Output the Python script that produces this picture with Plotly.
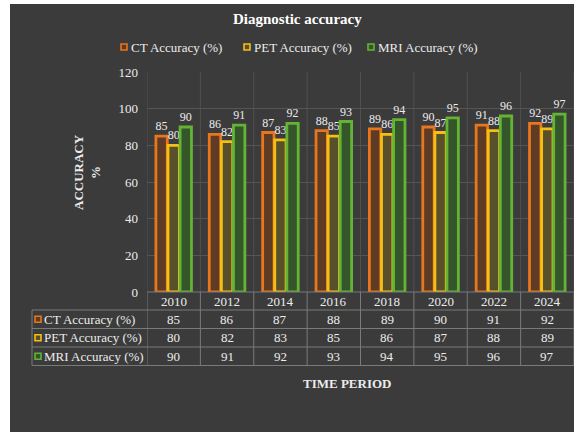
import plotly.graph_objects as go

# ---- data ----
years = ["2010", "2012", "2014", "2016", "2018", "2020", "2022", "2024"]
ct_accuracy = [85, 86, 87, 88, 89, 90, 91, 92]
pet_accuracy = [80, 82, 83, 85, 86, 87, 88, 89]
mri_accuracy = [90, 91, 92, 93, 94, 95, 96, 97]
series_names = ["CT Accuracy (%)", "PET Accuracy (%)", "MRI Accuracy (%)"]
y_ticks = [0, 20, 40, 60, 80, 100, 120]

series_values = [ct_accuracy, pet_accuracy, mri_accuracy]
edge_colors = ["#e8761c", "#f6c013", "#63b434"]
fill_colors = ["#5e3b24", "#58502a", "#35562a"]

W, H = 574, 432
L, R, T, B = 147, 0, 72, 140
PW, PH = W - L - R, H - T - B
BG = "#3b3b3b"
TXT = "#ececec"
SERIF = "Liberation Serif, Times New Roman, serif"
FS = 13


def px_x(px):
    return (px - L) / PW


def px_y(py):
    return (H - B - py) / PH


def label(x, y, text, xref="paper", xanchor="center", size=FS, angle=0, color=TXT):
    return dict(x=x, y=y, xref=xref, yref="paper", text=text, showarrow=False,
                xanchor=xanchor, yanchor="middle", textangle=angle,
                font=dict(family=SERIF, size=size, color=color))


def key_box(cx, cy, ec, fc, half=3):
    return dict(type="rect", xref="paper", yref="paper",
                x0=px_x(cx - half), x1=px_x(cx + half), y0=px_y(cy + half), y1=px_y(cy - half),
                fillcolor=fc, line=dict(color=ec, width=1.6))


fig = go.Figure()
for name, vals, ec, fc in zip(series_names, series_values, edge_colors, fill_colors):
    fig.add_trace(go.Bar(
        x=list(range(len(years))), y=vals, name=name,
        marker=dict(color=fc, line=dict(color=ec, width=2.8)),
        text=[str(v) for v in vals], textposition="outside",
        textfont=dict(family=SERIF, size=12, color=TXT),
        constraintext="none", cliponaxis=False,
    ))

shapes = []
annotations = []

# faint vertical separators inside the plot area
for i in range(len(years) + 1):
    shapes.append(dict(type="line", xref="x", yref="paper", x0=i - 0.5, x1=i - 0.5,
                       y0=0, y1=1, line=dict(color="#505050", width=1), layer="below"))

# data table under the axis
row_edges = [292, 310, 328.5, 347, 365.5]
grid = "#7a7a7a"
shapes.append(dict(type="line", xref="paper", yref="paper", x0=0, x1=1,
                   y0=px_y(row_edges[0]), y1=px_y(row_edges[0]), line=dict(color=grid, width=1)))
for ry in row_edges[1:]:
    shapes.append(dict(type="line", xref="paper", yref="paper", x0=px_x(32), x1=1,
                       y0=px_y(ry), y1=px_y(ry), line=dict(color=grid, width=1)))
for i in range(len(years) + 1):
    shapes.append(dict(type="line", xref="x", yref="paper", x0=i - 0.5, x1=i - 0.5,
                       y0=px_y(row_edges[0]), y1=px_y(row_edges[-1]), line=dict(color=grid, width=1)))
shapes.append(dict(type="line", xref="paper", yref="paper", x0=px_x(32), x1=px_x(32),
                   y0=px_y(row_edges[1]), y1=px_y(row_edges[-1]), line=dict(color=grid, width=1)))

row_centers = [(row_edges[k] + row_edges[k + 1]) / 2 for k in range(len(row_edges) - 1)]
for i, yr in enumerate(years):
    annotations.append(label(i, px_y(row_centers[0]), yr, xref="x"))
for r, (name, vals, ec, fc) in enumerate(zip(series_names, series_values, edge_colors, fill_colors)):
    cy = row_centers[r + 1]
    shapes.append(key_box(38, cy, ec, fc))
    annotations.append(label(px_x(42), px_y(cy), name, xanchor="left"))
    for i, v in enumerate(vals):
        annotations.append(label(i, px_y(cy), str(v), xref="x"))

# legend row above the plot
legend_x = [124, 247, 371]
for name, ec, fc, lx in zip(series_names, edge_colors, fill_colors, legend_x):
    shapes.append(key_box(lx, 47, ec, fc))
    annotations.append(label(px_x(lx + 5), px_y(47), name, xanchor="left"))

# titles
annotations.append(label(px_x(297), px_y(19), "<b>Diagnostic accuracy</b>", size=15, color="#ffffff"))
annotations.append(label(px_x(347), px_y(383), "<b>TIME PERIOD</b>"))
annotations.append(label(px_x(87), px_y(172), "<b>ACCURACY<br>%</b>", angle=-90))

# white page edges
shapes.append(dict(type="rect", xref="paper", yref="paper", x0=px_x(-5), x1=px_x(10),
                   y0=px_y(440), y1=px_y(-5), fillcolor="#ffffff", line=dict(width=0)))
shapes.append(dict(type="rect", xref="paper", yref="paper", x0=px_x(-5), x1=px_x(580),
                   y0=px_y(4), y1=px_y(-5), fillcolor="#ffffff", line=dict(width=0)))

fig.update_layout(
    width=W, height=H,
    margin=dict(l=L, r=R, t=T, b=B),
    paper_bgcolor=BG, plot_bgcolor="rgba(0,0,0,0)",
    barmode="group", bargap=0.32, bargroupgap=0.06,
    showlegend=False,
    xaxis=dict(type="linear", range=[-0.5, len(years) - 0.5], showticklabels=False,
               showgrid=False, zeroline=False, showline=False, ticks=""),
    yaxis=dict(range=[0, 120], tickvals=y_ticks, showgrid=True, gridcolor="#555555",
               gridwidth=1, zeroline=False, showline=False, ticks="",
               ticklabelstandoff=8,
               tickfont=dict(family=SERIF, size=FS, color=TXT)),
    shapes=shapes, annotations=annotations,
)

fig.write_html("out.html")
